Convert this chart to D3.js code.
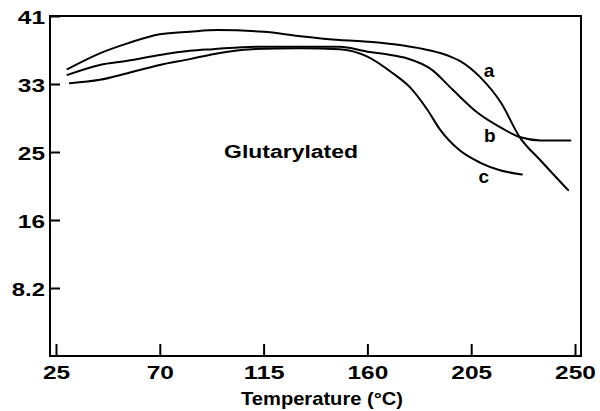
<!DOCTYPE html>
<html>
<head>
<meta charset="utf-8">
<script src="https://cdn.jsdelivr.net/npm/d3@7"></script>
<style>
  html, body { margin: 0; padding: 0; background: #fff; }
  svg { display: block; }
  text { font-family: "Liberation Sans", Arial, sans-serif; font-weight: bold; fill: #000; }
</style>
</head>
<body>
<svg id="chart" width="600" height="411"></svg>
<script>
// ---- data ----
const xTicks = [25, 70, 115, 160, 205, 250];
const yTicks = [8.2, 16.4, 24.6, 32.8, 41];
const yTickLabels = ["8.2", "16", "25", "33", "41"];

const tempA = [30, 44, 56, 70, 83, 95, 115, 130, 148, 160, 174, 196, 200, 209, 218, 226, 235, 247];
const valA  = [34.6, 36.5, 37.7, 38.8, 39.1, 39.3, 39.1, 38.6, 38.1, 37.9, 37.5, 36.1, 35.6, 33.6, 30.5, 26.4, 23.6, 20.0];

const tempB = [30, 44, 56, 70, 83, 93, 112, 131, 148, 160, 170, 177, 188, 197, 207.5, 217.5, 226, 235, 248];
const valB  = [33.9, 35.1, 35.6, 36.3, 36.8, 37.0, 37.3, 37.3, 37.3, 36.7, 36.3, 35.9, 34.5, 32.1, 29.4, 27.6, 26.4, 26.0, 26.0];

const tempC = [31, 44, 56, 70, 83, 93, 110, 131, 148, 160, 171, 178.5, 186, 191.5, 200, 209, 217.5, 227];
const valC  = [32.9, 33.3, 34.1, 35.1, 35.8, 36.4, 37.0, 37.1, 37.0, 36.1, 34.1, 32.4, 29.7, 27.3, 24.8, 23.3, 22.4, 21.9];

const seriesNames = ["a", "b", "c"];
const labelPos = [[212.7, 34.5], [213.1, 26.6], [210.5, 21.7]];
const annotation = "Glutarylated";
const annotationPos = [126.9, 24.6];
const xTitle = "Temperature (°C)";

// ---- layout ----
const svg = d3.select("#chart");
const L = 50, R = 581, T = 16, B = 356;

const x = d3.scaleLinear().domain([22.4, 252.6]).range([L, R]);
const y = d3.scaleLinear().domain([0, 41]).range([B, T]);

// stretch widths for wide glyphs
function numLen(s) { let w = 0; for (const ch of s) w += (ch === "." ? 6 : 13.6); return w; }

// frame
svg.append("rect")
  .attr("x", L).attr("y", T).attr("width", R - L).attr("height", B - T)
  .attr("fill", "none").attr("stroke", "#000").attr("stroke-width", 2);

// x axis
const gx = svg.append("g").attr("transform", `translate(0,${B})`)
  .call(d3.axisBottom(x).tickValues(xTicks).tickSizeInner(-12).tickSizeOuter(0).tickPadding(10).tickFormat(d3.format("d")));
gx.select(".domain").remove();
gx.selectAll(".tick line").attr("stroke", "#000").attr("stroke-width", 2);
gx.selectAll(".tick text")
  .attr("font-size", 18).attr("font-family", null)
  .each(function() { const s = this.textContent; d3.select(this).attr("textLength", numLen(s)).attr("lengthAdjust", "spacingAndGlyphs"); });

// y axis
const gy = svg.append("g").attr("transform", `translate(${L},0)`)
  .call(d3.axisLeft(y).tickValues(yTicks).tickSizeInner(-10).tickSizeOuter(0).tickPadding(5)
    .tickFormat((d, i) => yTickLabels[i]));
gy.select(".domain").remove();
gy.selectAll(".tick line").attr("stroke", "#000").attr("stroke-width", 2);
gy.selectAll(".tick text")
  .attr("font-size", 18).attr("font-family", null).attr("dy", "0.42em")
  .each(function() { const s = this.textContent; d3.select(this).attr("textLength", numLen(s)).attr("lengthAdjust", "spacingAndGlyphs"); });

// curves
const line = d3.line().x(d => x(d[0])).y(d => y(d[1])).curve(d3.curveMonotoneX);
const series = [d3.zip(tempA, valA), d3.zip(tempB, valB), d3.zip(tempC, valC)];
svg.append("g").selectAll("path").data(series).join("path")
  .attr("d", line).attr("fill", "none").attr("stroke", "#000").attr("stroke-width", 2)
  .attr("stroke-linejoin", "round").attr("stroke-linecap", "round");

// series labels
svg.append("g").selectAll("text").data(seriesNames).join("text")
  .attr("x", (d, i) => x(labelPos[i][0])).attr("y", (d, i) => y(labelPos[i][1]))
  .attr("dy", "0.35em").attr("text-anchor", "middle").attr("font-size", 19)
  .text(d => d);

// annotation
svg.append("text")
  .attr("x", x(annotationPos[0])).attr("y", y(annotationPos[1]))
  .attr("dy", "0.35em").attr("text-anchor", "middle").attr("font-size", 18)
  .attr("textLength", 134).attr("lengthAdjust", "spacingAndGlyphs")
  .text(annotation);

// x title
svg.append("text")
  .attr("x", 322).attr("y", 405)
  .attr("text-anchor", "middle").attr("font-size", 19)
  .attr("textLength", 162).attr("lengthAdjust", "spacingAndGlyphs")
  .text(xTitle);
</script>
</body>
</html>
